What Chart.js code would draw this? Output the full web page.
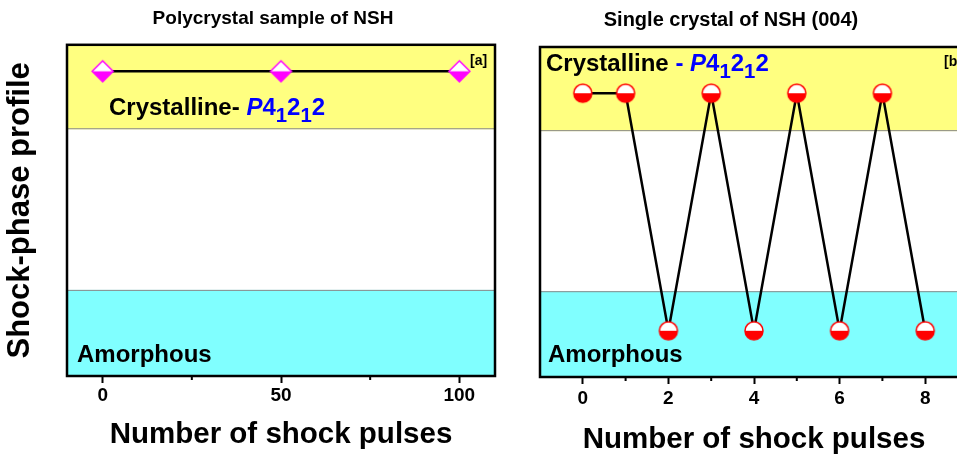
<!DOCTYPE html>
<html>
<head>
<meta charset="utf-8">
<script src="https://cdn.jsdelivr.net/npm/chart.js@4.4.1/dist/chart.umd.min.js"></script>
<style>
  html, body { margin: 0; padding: 0; background: #fff; width: 957px; height: 456px; overflow: hidden; }
  #boxA { position: absolute; left: 0; top: 0; }
  #boxB { position: absolute; left: 494px; top: 0; }
</style>
</head>
<body>
<canvas id="boxA" width="540" height="456"></canvas>
<canvas id="boxB" width="474" height="456"></canvas>
<script>
// ---- data ----
// profile scale: 0 (bottom) .. 10 (top); amorphous points low, crystalline points high
const pulsesA = [0, 50, 100];
const phaseA = [9.2, 9.2, 9.2];
const pulsesB = [0, 1, 2, 3, 4, 5, 6, 7, 8];
const phaseB = [8.6, 8.6, 1.4, 8.6, 1.4, 8.6, 1.4, 8.6, 1.4];

const majorTicksA = [0, 50, 100];
const minorTicksA = [25, 75];
const majorTicksB = [0, 2, 4, 6, 8];
const minorTicksB = [1, 3, 5, 7];

const crystalBand = [7.45, 10];
const amorphBand = [0, 2.6];

const FONT = "'Liberation Sans', Arial, sans-serif";
const BLUE = "#0000ff";

Chart.defaults.font.family = FONT;
Chart.defaults.color = "#000";

// half filled marker (white top, coloured bottom)
function halfMarker(shape, color, r) {
  const s = 2 * r + 4, m = s / 2;
  const c = document.createElement("canvas");
  c.width = c.height = s;
  const g = c.getContext("2d");
  const path = () => {
    g.beginPath();
    if (shape === "diamond") {
      g.moveTo(m, m - r); g.lineTo(m + r, m); g.lineTo(m, m + r); g.lineTo(m - r, m); g.closePath();
    } else {
      g.arc(m, m, r, 0, Math.PI * 2);
    }
  };
  path(); g.fillStyle = "#fff"; g.fill();
  g.save(); path(); g.clip(); g.fillStyle = color; g.fillRect(0, m, s, s); g.restore();
  path(); g.strokeStyle = color; g.lineWidth = 1.5; g.stroke();
  return c;
}

// bands, frame, minor ticks, text labels
const decor = {
  id: "decor",
  beforeDatasetsDraw(chart, args, o) {
    const {ctx, chartArea: a, scales: {y}} = chart;
    ctx.save();
    [[crystalBand, "#ffff80"], [amorphBand, "#80ffff"]].forEach(([b, col]) => {
      const y1 = y.getPixelForValue(b[1]), y0 = y.getPixelForValue(b[0]);
      ctx.fillStyle = col;
      ctx.fillRect(a.left, y1, a.right - a.left, y0 - y1);
      ctx.strokeStyle = "#8a8a8a"; ctx.lineWidth = 1;
      ctx.beginPath();
      ctx.moveTo(a.left, y1 + 0.5); ctx.lineTo(a.right, y1 + 0.5);
      ctx.moveTo(a.left, y0 - 0.5); ctx.lineTo(a.right, y0 - 0.5);
      ctx.stroke();
    });
    ctx.restore();
  },
  afterDraw(chart, args, o) {
    const {ctx, chartArea: a, scales: {x}} = chart;
    ctx.save();
    ctx.strokeStyle = "#000"; ctx.lineWidth = 2.5;
    ctx.strokeRect(a.left, a.top, a.right - a.left, a.bottom - a.top);
    ctx.lineWidth = 2;
    ctx.beginPath();
    o.minor.forEach(v => {
      const px = x.getPixelForValue(v);
      ctx.moveTo(px, a.bottom); ctx.lineTo(px, a.bottom + 4);
    });
    ctx.stroke();
    o.labels.forEach(l => {
      let px = a.left + l.dx;
      const py = a.top + l.dy;
      ctx.textBaseline = "alphabetic";
      l.parts.forEach(p => {
        const size = p.sub ? l.size * 0.85 : l.size;
        ctx.font = (p.italic ? "italic " : "") + "bold " + size + "px " + FONT;
        ctx.fillStyle = p.color || "#000";
        ctx.fillText(p.t, px, py + (p.sub ? l.size * 0.28 : 0));
        px += ctx.measureText(p.t).width;
      });
    });
    ctx.restore();
  }
};

function spaceGroup(lead) {
  return lead.concat([
    {t: "P", color: BLUE, italic: true},
    {t: "4", color: BLUE},
    {t: "1", color: BLUE, sub: true},
    {t: "2", color: BLUE},
    {t: "1", color: BLUE, sub: true},
    {t: "2", color: BLUE}
  ]);
}

function makeChart(id, cfg) {
  return new Chart(document.getElementById(id), {
    type: "line",
    data: {
      datasets: [{
        data: cfg.xs.map((v, i) => ({x: v, y: cfg.ys[i]})),
        borderColor: "#000",
        borderWidth: 2.5,
        tension: 0,
        pointStyle: cfg.marker,
        pointRadius: 10,
        pointHoverRadius: 10
      }]
    },
    options: {
      responsive: false,
      animation: false,
      events: [],
      layout: {padding: cfg.padding, autoPadding: false},
      plugins: {
        legend: {display: false},
        tooltip: {enabled: false},
        title: {
          display: true,
          text: cfg.title,
          font: {size: cfg.titleSize, weight: "bold"},
          color: "#000",
          padding: cfg.titlePad
        },
        decor: {minor: cfg.minor, labels: cfg.labels}
      },
      scales: {
        x: {
          type: "linear",
          min: cfg.xmin,
          max: cfg.xmax,
          afterBuildTicks: s => { s.ticks = cfg.major.map(v => ({value: v})); },
          afterFit: s => { s.height = cfg.xAxisH; },
          border: {display: false},
          grid: {drawOnChartArea: false, drawTicks: true, tickLength: 7, tickWidth: 2, tickColor: "#000"},
          ticks: {font: {size: 19, weight: "bold"}, color: "#000", padding: cfg.tickPad, maxRotation: 0, autoSkip: false},
          title: {display: true, text: "Number of shock pulses", font: {size: 29.5, weight: "bold"}, color: "#000", padding: {top: 0, bottom: cfg.xTitlePad}}
        },
        y: {
          min: 0,
          max: 10,
          afterFit: s => { s.width = cfg.yAxisW; },
          border: {display: false},
          grid: {display: false, drawTicks: false},
          ticks: {display: false},
          title: {display: !!cfg.yTitle, text: cfg.yTitle || "", font: {size: 31, weight: "bold"}, color: "#000", padding: {top: cfg.yTitlePad || 0, bottom: 0}}
        }
      }
    },
    plugins: [decor]
  });
}

makeChart("boxA", {
  xs: pulsesA, ys: phaseA,
  marker: halfMarker("diamond", "#ff00ff", 10.5),
  title: "Polycrystal sample of NSH", titleSize: 19,
  titlePad: {top: 7, bottom: 15},
  padding: {left: 51, right: 45, top: 0, bottom: 0},
  xmin: -10, xmax: 110,
  major: majorTicksA, minor: minorTicksA,
  xAxisH: 80, xTitlePad: 3, tickPad: 1,
  yTitle: "Shock-phase profile", yAxisW: 16, yTitlePad: -49.6,
  labels: [
    {dx: 42, dy: 70, size: 24, parts: spaceGroup([{t: "Crystalline- "}])},
    {dx: 10, dy: 317, size: 24, parts: [{t: "Amorphous"}]},
    {dx: 403, dy: 20, size: 14, parts: [{t: "[a]"}]}
  ]
});

makeChart("boxB", {
  xs: pulsesB, ys: phaseB,
  marker: halfMarker("circle", "#ff0000", 9),
  title: "Single crystal of NSH (004)", titleSize: 20,
  titlePad: {top: 8, bottom: 15},
  padding: {left: 0, right: 0, top: 0, bottom: 0},
  xmin: -1, xmax: 9,
  major: majorTicksB, minor: minorTicksB,
  xAxisH: 79, xTitlePad: -2, tickPad: 3,
  yAxisW: 46,
  labels: [
    {dx: 6, dy: 24, size: 24, parts: spaceGroup([{t: "Crystalline "}, {t: "- ", color: BLUE}])},
    {dx: 8, dy: 315, size: 24, parts: [{t: "Amorphous"}]},
    {dx: 404, dy: 19, size: 14, parts: [{t: "[b]"}]}
  ]
});
</script>
</body>
</html>
